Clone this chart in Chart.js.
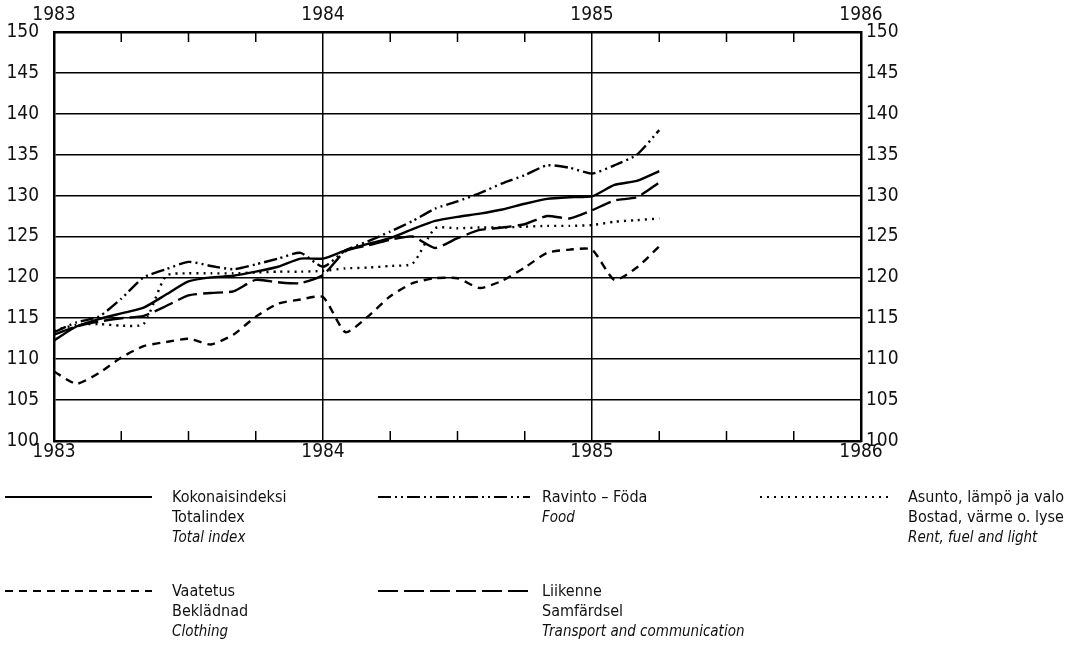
<!DOCTYPE html>
<html><head><meta charset="utf-8">
<script src="https://cdn.jsdelivr.net/npm/chart.js@4.4.1/dist/chart.umd.min.js"></script>
<style>
html,body{margin:0;padding:0;background:#fff;}
body{width:1091px;height:651px;overflow:hidden;position:relative;font-family:"Liberation Sans Narrow","DejaVu Sans Condensed","Liberation Sans",Arial,sans-serif;color:#111;}
#wrap{position:absolute;left:0;top:0;width:1091px;height:470px;}
.leg{position:absolute;font-size:16px;line-height:20px;white-space:nowrap;}
.leg i{font-style:italic;font-size:15px;}
svg{position:absolute;left:0;top:0;}
</style></head><body>
<div id="wrap"><canvas id="c"></canvas></div>
<svg width="1091" height="651" id="legsvg"></svg>
<div class="leg" style="left:172px;top:487px">Kokonaisindeksi<br>Totalindex<br><i>Total index</i></div>
<div class="leg" style="left:542px;top:487px">Ravinto – Föda<br><i>Food</i></div>
<div class="leg" style="left:908px;top:487px">Asunto, lämpö ja valo<br>Bostad, värme o. lyse<br><i>Rent, fuel and light</i></div>
<div class="leg" style="left:172px;top:581px">Vaatetus<br>Beklädnad<br><i>Clothing</i></div>
<div class="leg" style="left:542px;top:581px">Liikenne<br>Samfärdsel<br><i>Transport and communication</i></div>
<script>
// months since Jan 1983
const monthIndex = [0,1,2,3,4,5,6,7,8,9,10,11,12,13,14,15,16,17,18,19,20,21,22,23,24,25,26,27];
const yearLabels = ['1983','1984','1985','1986'];
const total    = [112.3,114.0,114.9,115.6,116.3,117.9,119.5,120.0,120.2,120.7,121.3,122.3,122.3,123.3,124.1,124.8,125.9,126.9,127.4,127.8,128.3,129.0,129.6,129.8,129.9,131.3,131.8,133.0];
const food     = [113.3,114.5,115.2,117.4,120.0,121.0,121.9,121.4,121.0,121.6,122.3,123.0,121.3,123.3,124.4,125.6,126.9,128.4,129.3,130.3,131.5,132.5,133.7,133.4,132.7,133.7,135.0,138.0];
const rent     = [113.5,114.2,114.3,114.1,114.3,120.2,120.5,120.5,120.5,120.6,120.7,120.7,120.8,121.1,121.2,121.4,121.7,126.0,126.0,126.1,126.1,126.2,126.3,126.3,126.4,126.8,127.0,127.2];
const clothing = [108.5,107.0,108.3,110.2,111.6,112.1,112.5,111.8,113.0,115.2,116.8,117.3,117.6,113.3,115.2,117.7,119.3,119.9,119.9,118.7,119.6,121.2,123.0,123.4,123.4,119.7,121.2,123.8];
const transport= [113.0,114.0,114.6,115.0,115.3,116.5,117.8,118.1,118.3,119.7,119.4,119.3,120.3,123.2,123.9,124.6,125.0,123.6,124.8,125.8,126.1,126.5,127.5,127.2,128.2,129.4,129.8,131.6];

const seriesNames = ['Kokonaisindeksi','Ravinto – Föda','Asunto, lämpö ja valo','Vaatetus','Liikenne'];
const dashes = [[], [13,4,2,4,2,4], [2,5], [8,6], [20,6]];
const seriesData = [total, food, rent, clothing, transport];

const pts = arr => arr.map((v,i)=>({x:monthIndex[i], y:v}));
const FONT = {family:'"Liberation Sans Narrow","DejaVu Sans Condensed","Liberation Sans",Arial,sans-serif', size:19};

// quarter tick marks drawn inward on top and bottom edges
const quarterTicks = {
  id:'quarterTicks',
  afterDatasetsDraw(chart){
    const {ctx, chartArea:a, scales:{x}} = chart;
    ctx.save();
    ctx.strokeStyle='#000'; ctx.lineWidth=1.5;
    for(let q=3;q<36;q+=3){
      if(q%12===0) continue;
      const px = x.getPixelForValue(q);
      ctx.beginPath();
      ctx.moveTo(px,a.top); ctx.lineTo(px,a.top+10);
      ctx.moveTo(px,a.bottom); ctx.lineTo(px,a.bottom-10);
      ctx.stroke();
    }
    ctx.restore();
  }
};

const xTick = {font:FONT,color:'#111',stepSize:12,maxRotation:0,autoSkip:false,
  callback:v=> (v%12===0 ? yearLabels[v/12] : '')};

new Chart(document.getElementById('c'),{
  type:'line',
  data:{datasets: seriesData.map((d,i)=>({
    label:seriesNames[i], data:pts(d), borderColor:'#000', backgroundColor:'#000',
    borderWidth:2.4, borderDash:dashes[i], pointRadius:0, tension:0.2, fill:false
  }))},
  options:{
    responsive:true, maintainAspectRatio:false, animation:false,
    layout:{padding:0},
    plugins:{legend:{display:false},tooltip:{enabled:false}},
    scales:{
      x:{type:'linear',position:'bottom',min:0,max:36,
        ticks:Object.assign({padding:0},xTick),
        grid:{color:'#000',lineWidth:1.5,drawTicks:false},
        border:{color:'#000',width:2.5},
        afterFit:s=>{s.height=29;}},
      x2:{type:'linear',position:'top',min:0,max:36,display:true,
        ticks:Object.assign({padding:6},xTick),
        grid:{display:false,drawTicks:false},
        border:{color:'#000',width:2.5},
        afterFit:s=>{s.height=32;}},
      y:{position:'left',min:100,max:150,
        ticks:{font:FONT,color:'#111',stepSize:5,padding:15},
        grid:{color:'#000',lineWidth:1.6,drawTicks:false},
        border:{color:'#000',width:2.5},
        afterFit:s=>{s.width=54;}},
      y2:{position:'right',min:100,max:150,display:true,
        ticks:{font:FONT,color:'#111',stepSize:5,padding:5},
        grid:{display:false,drawTicks:false},
        border:{color:'#000',width:2.5},
        afterFit:s=>{s.width=230;}}
    }
  },
  plugins:[quarterTicks]
});

// legend samples
const svg = document.getElementById('legsvg');
const legendSamples = [[5,152,497,0],[378,530,497,1],[760,890,497,2],[5,152,591,3],[378,530,591,4]];
legendSamples.forEach(([x1,x2,y,k])=>{
  const l = document.createElementNS('http://www.w3.org/2000/svg','line');
  l.setAttribute('x1',x1); l.setAttribute('x2',x2); l.setAttribute('y1',y); l.setAttribute('y2',y);
  l.setAttribute('stroke','#000'); l.setAttribute('stroke-width','2');
  if(dashes[k].length) l.setAttribute('stroke-dasharray',dashes[k].join(' '));
  svg.appendChild(l);
});
</script>
</body></html>
